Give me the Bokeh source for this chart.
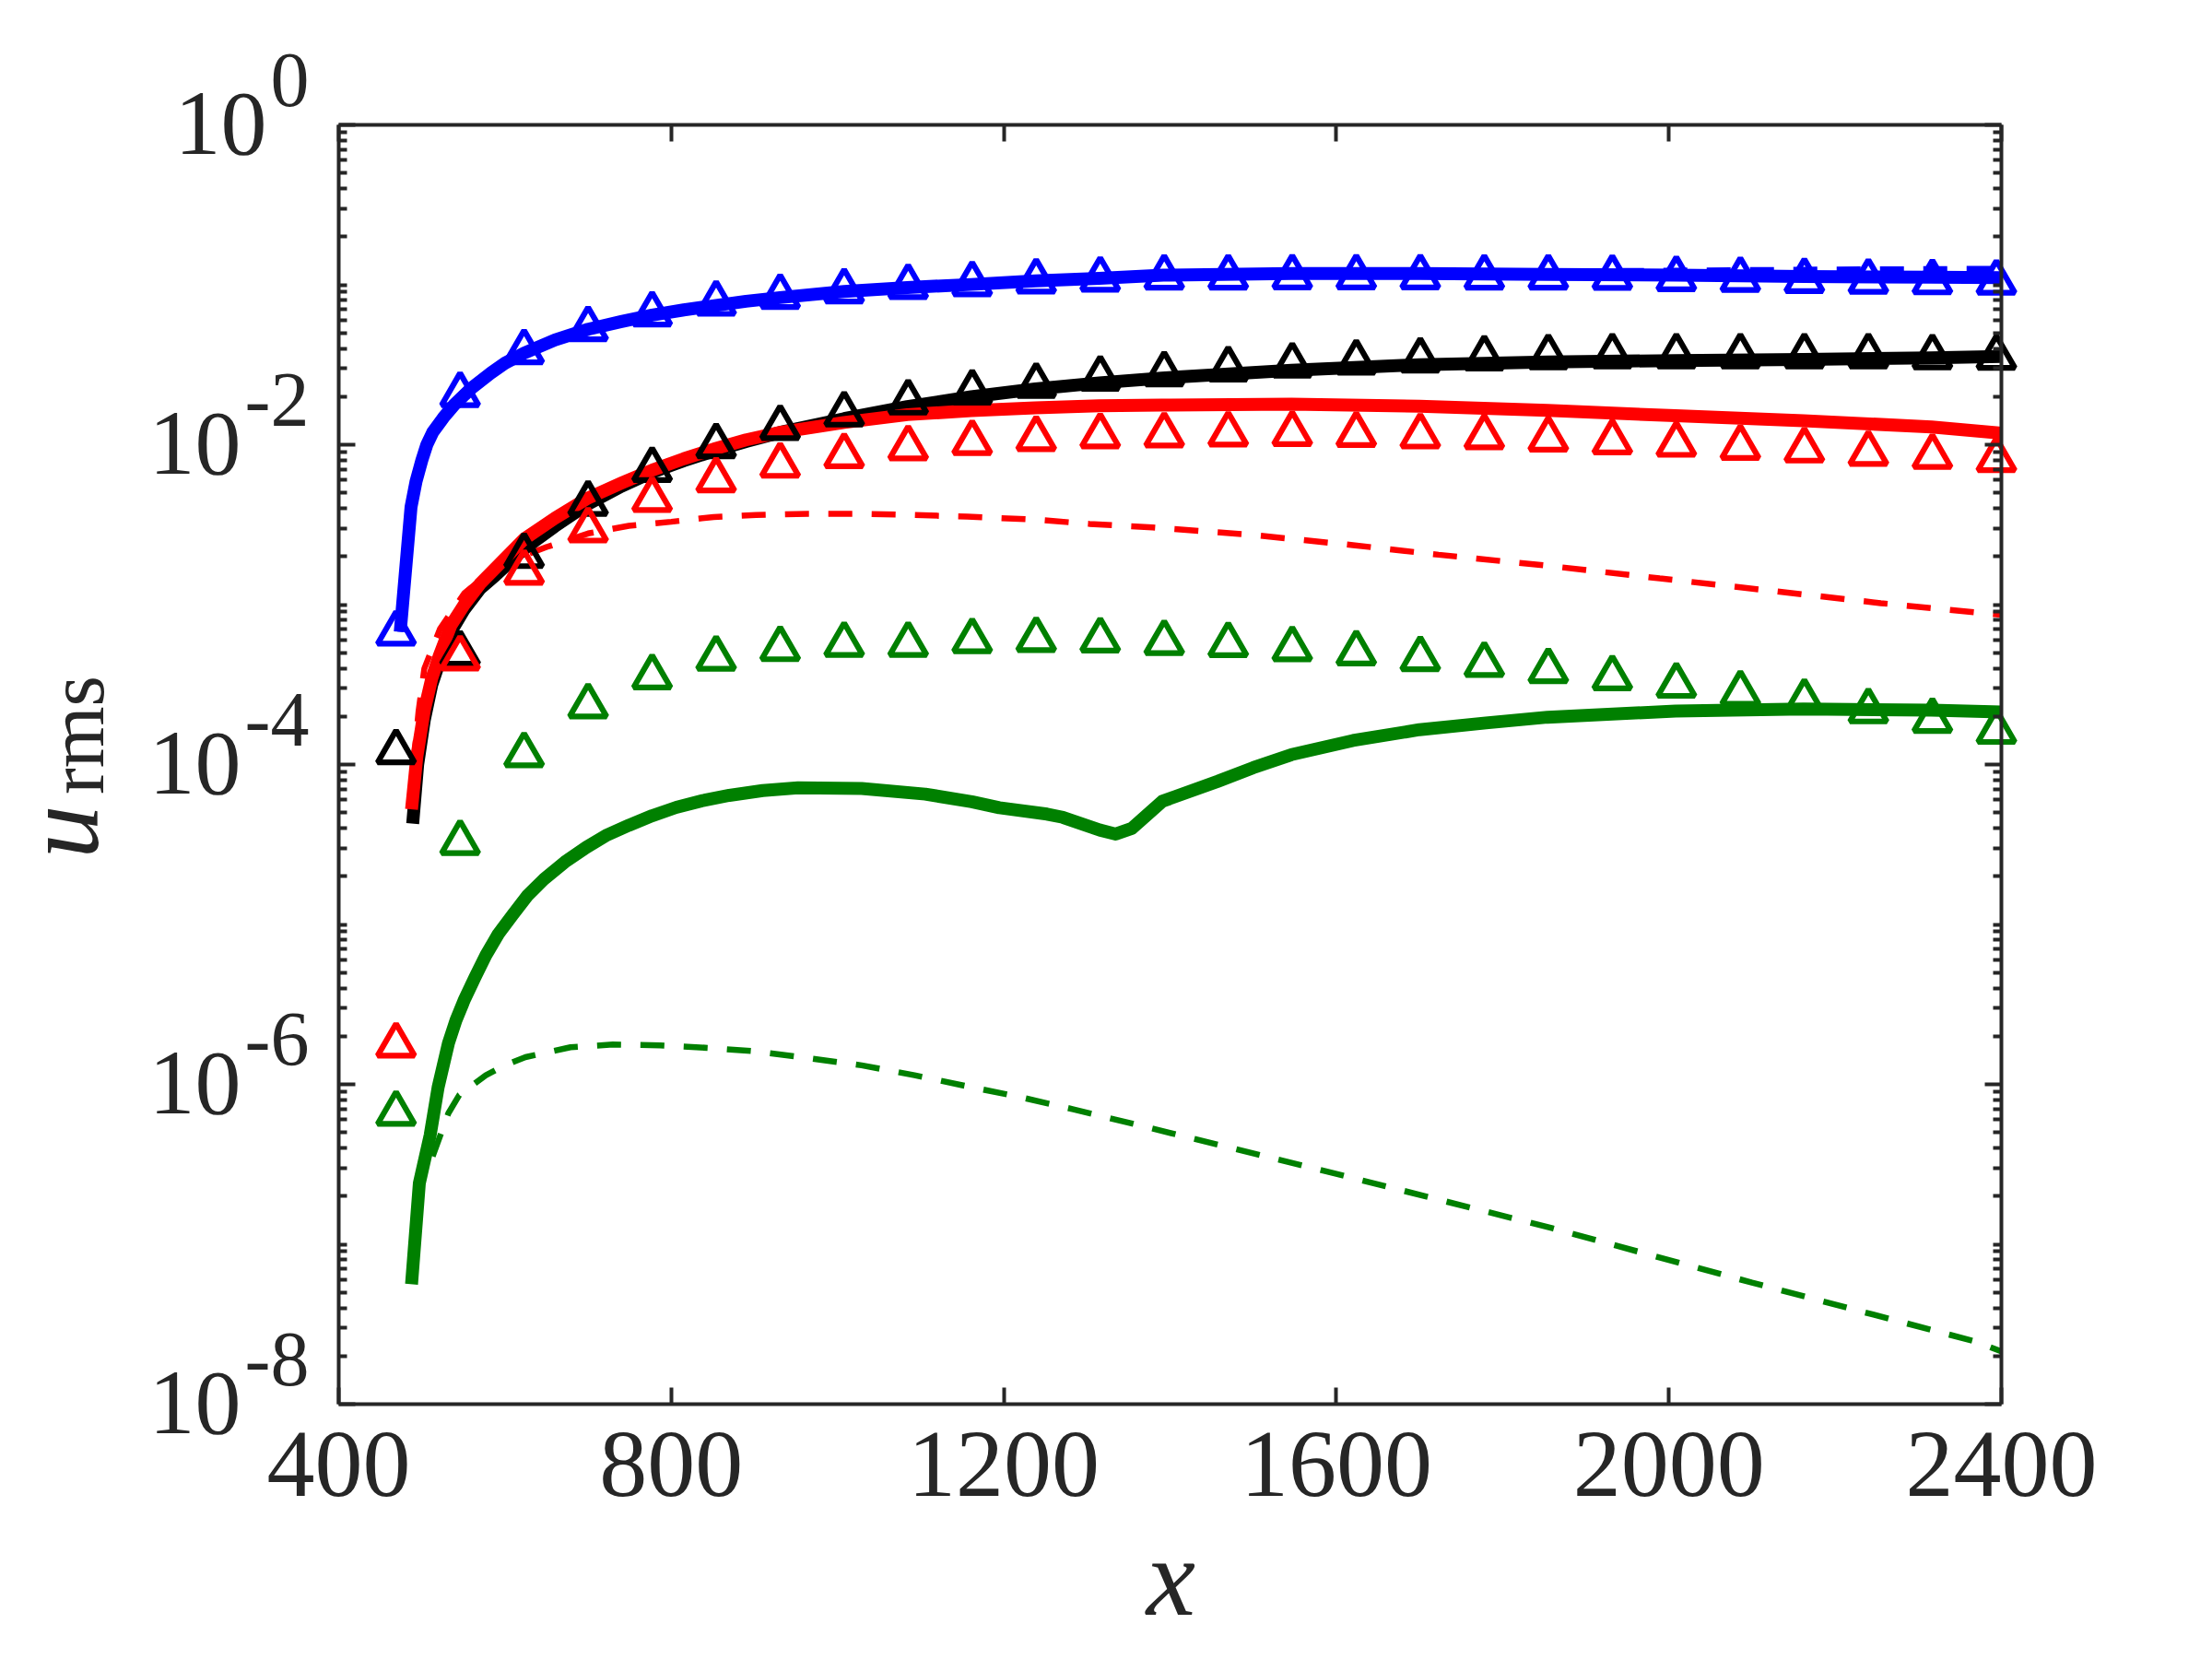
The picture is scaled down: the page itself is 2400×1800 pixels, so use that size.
import math
from bokeh.plotting import figure
from bokeh.models import (Range1d, FixedTicker, LinearAxis, LogAxis,
                          CustomJSTickFormatter)
from bokeh.core.properties import value
from bokeh.embed import file_html
from bokeh.resources import INLINE

# ---------------- data ----------------
x_markers = [469, 546, 623, 700, 777, 854, 931, 1008, 1085, 1162, 1239, 1316, 1393,
             1470, 1547, 1624, 1701, 1778, 1855, 1932, 2009, 2086, 2163, 2240, 2317, 2394]

blue_markers = [6.637e-4, 2.061e-2, 3.819e-2, 5.321e-2, 6.577e-2, 7.674e-2, 8.453e-2,
                9.162e-2, 9.750e-2, 0.1016, 0.1057, 0.1086, 0.1117, 0.1119, 0.1122,
                0.1122, 0.1122, 0.1119, 0.1119, 0.1114, 0.1094, 0.1081, 0.1064,
                0.1054, 0.1045, 0.1040]
black_markers = [1.202e-4, 4.977e-4, 2.028e-3, 4.305e-3, 6.998e-3, 9.863e-3, 1.282e-2,
                 1.556e-2, 1.849e-2, 2.133e-2, 2.350e-2, 2.606e-2, 2.773e-2, 2.979e-2,
                 3.148e-2, 3.281e-2, 3.381e-2, 3.483e-2, 3.548e-2, 3.589e-2, 3.589e-2,
                 3.589e-2, 3.589e-2, 3.589e-2, 3.548e-2, 3.524e-2]
red_markers = [1.762e-6, 4.645e-4, 1.596e-3, 2.931e-3, 4.550e-3, 6.026e-3, 7.447e-3,
               8.551e-3, 9.572e-3, 1.033e-2, 1.094e-2, 1.138e-2, 1.153e-2, 1.167e-2,
               1.175e-2, 1.161e-2, 1.135e-2, 1.122e-2, 1.086e-2, 1.042e-2, 1.007e-2,
               9.638e-3, 9.268e-3, 8.831e-3, 8.453e-3, 8.072e-3]
green_markers = [6.592e-7, 3.251e-5, 1.153e-4, 2.328e-4, 3.540e-4, 4.624e-4, 5.309e-4,
                 5.649e-4, 5.649e-4, 5.957e-4, 6.053e-4, 6.012e-4, 5.794e-4, 5.623e-4,
                 5.297e-4, 4.989e-4, 4.592e-4, 4.227e-4, 3.864e-4, 3.491e-4, 3.133e-4,
                 2.799e-4, 2.483e-4, 2.168e-4, 1.888e-4, 1.614e-4]

blue_x = [474, 487, 493, 500, 506, 513, 526, 539, 560, 583, 600, 623, 660, 700, 740,
          777, 815, 854, 890, 931, 1008, 1084, 1161, 1238, 1315, 1392, 1546, 1700,
          1854, 2008, 2162, 2316, 2400]
blue_solid = [6.761e-4, 4.074e-3, 5.888e-3, 7.998e-3, 1.0e-2, 1.194e-2, 1.479e-2,
              1.778e-2, 2.265e-2, 2.805e-2, 3.236e-2, 3.741e-2, 4.519e-2, 5.272e-2,
              5.888e-2, 6.457e-2, 6.966e-2, 7.430e-2, 7.889e-2, 8.318e-2, 9.078e-2,
              9.616e-2, 0.1005, 0.1059, 0.1096, 0.1148, 0.1175, 0.1175, 0.1161,
              0.1148, 0.1127, 0.1114, 0.1107]
blue_dashed = [6.761e-4, 4.074e-3, 5.888e-3, 7.998e-3, 1.0e-2, 1.194e-2, 1.479e-2,
               1.778e-2, 2.265e-2, 2.805e-2, 3.236e-2, 3.741e-2, 4.519e-2, 5.272e-2,
               5.888e-2, 6.457e-2, 6.966e-2, 7.430e-2, 7.889e-2, 8.318e-2, 9.078e-2,
               9.616e-2, 0.1005, 0.1059, 0.1096, 0.1148, 0.1180, 0.1197, 0.1213,
               0.1225, 0.1242, 0.1253, 0.1259]

black_x = [489, 495, 503, 512, 521, 535, 551, 570, 588, 623, 660, 700, 740, 777, 815,
           854, 890, 931, 1008, 1084, 1161, 1238, 1315, 1390, 1546, 1700, 1854, 2008,
           2162, 2316, 2400]
black_solid = [4.266e-5, 1.0e-4, 1.905e-4, 3.162e-4, 4.365e-4, 6.761e-4, 9.333e-4,
               1.259e-3, 1.514e-3, 2.239e-3, 3.090e-3, 4.266e-3, 5.495e-3, 6.730e-3,
               7.943e-3, 9.226e-3, 1.047e-2, 1.194e-2, 1.455e-2, 1.730e-2, 1.995e-2,
               2.234e-2, 2.438e-2, 2.612e-2, 2.924e-2, 3.162e-2, 3.296e-2, 3.357e-2,
               3.412e-2, 3.499e-2, 3.565e-2]

red_x = [487.6, 494, 503, 512, 521, 535, 551, 570, 588, 623, 660, 700, 740, 777, 815,
         854, 890, 931, 1008, 1084, 1161, 1238, 1315, 1390, 1546, 1700, 1854, 2008,
         2162, 2316, 2400]
red_solid = [5.248e-5, 1.122e-4, 2.188e-4, 3.467e-4, 4.786e-4, 7.413e-4, 1.0e-3,
             1.349e-3, 1.679e-3, 2.570e-3, 3.467e-3, 4.645e-3, 5.754e-3, 6.934e-3,
             8.166e-3, 9.484e-3, 1.072e-2, 1.194e-2, 1.377e-2, 1.542e-2, 1.633e-2,
             1.698e-2, 1.750e-2, 1.770e-2, 1.795e-2, 1.742e-2, 1.641e-2, 1.517e-2,
             1.413e-2, 1.291e-2, 1.180e-2]

red_dx = [490, 496, 503, 522, 551, 590, 650, 700, 749, 800, 851, 902, 965, 1029, 1093,
          1156, 1239, 1303, 1379, 1497, 1620, 1723, 1856, 1989, 2122, 2255, 2400]
red_dashed = [1.0e-4, 2.138e-4, 3.981e-4, 7.079e-4, 1.175e-3, 1.738e-3, 2.291e-3,
              2.786e-3, 3.112e-3, 3.296e-3, 3.532e-3, 3.631e-3, 3.698e-3, 3.698e-3,
              3.631e-3, 3.548e-3, 3.396e-3, 3.199e-3, 3.041e-3, 2.735e-3, 2.355e-3,
              2.051e-3, 1.746e-3, 1.459e-3, 1.222e-3, 1.021e-3, 8.630e-4]

green_x = [487.6, 497, 510, 519.6, 532, 541, 551.4, 564, 577, 592, 608.8, 627, 647,
           672, 697.8, 723, 749, 777, 806, 838, 869.8, 910, 952.5, 1029, 1105.6,
           1161.5, 1194.6, 1252, 1271, 1315.6, 1334.7, 1353.8, 1390.6, 1457, 1500,
           1546, 1620, 1700, 1780, 1854, 2008, 2162, 2316, 2400]
green_solid = [5.623e-8, 2.410e-7, 4.808e-7, 9.594e-7, 1.807e-6, 2.512e-6, 3.404e-6,
               4.677e-6, 6.412e-6, 8.710e-6, 1.140e-5, 1.514e-5, 1.919e-5, 2.455e-5,
               3.034e-5, 3.631e-5, 4.169e-5, 4.786e-5, 5.395e-5, 5.957e-5, 6.412e-5,
               6.871e-5, 7.161e-5, 7.079e-5, 6.531e-5, 5.848e-5, 5.370e-5, 4.898e-5,
               4.677e-5, 3.890e-5, 3.673e-5, 3.981e-5, 5.888e-5, 7.834e-5, 9.550e-5,
               1.153e-4, 1.413e-4, 1.652e-4, 1.820e-4, 1.977e-4, 2.158e-4, 2.228e-4,
               2.188e-4, 2.133e-4]

green_dx = [513, 532, 545, 577, 600, 624.6, 678.8, 729.7, 787, 850.7, 901.6, 965, 1029,
            1092.6, 1156.4, 1220, 1283.7, 1376, 1600, 1860, 2100, 2370, 2400]
green_dashed = [3.548e-7, 6.607e-7, 8.570e-7, 1.140e-6, 1.318e-6, 1.479e-6, 1.706e-6,
                1.774e-6, 1.754e-6, 1.683e-6, 1.607e-6, 1.459e-6, 1.315e-6, 1.140e-6,
                9.705e-7, 8.318e-7, 6.982e-7, 5.333e-7, 2.754e-7, 1.259e-7, 5.754e-8,
                2.455e-8, 2.138e-8]

x_tick_values = [400, 800, 1200, 1600, 2000, 2400]
y_tick_values = [1e-8, 1e-6, 1e-4, 1e-2, 1e0]
y_tick_exponents = ["-8", "-6", "-4", "-2", "0"]
x_title, y_title, y_title_sub = "x", "u", "rms"

BLUE, BLACK, RED, GREEN = "#0000ff", "#000000", "#ff0000", "#008000"
AX = "#262626"
FONT = "Liberation Serif"

# ---------------- canvas geometry (pixels) ----------------
W, H = 2392, 1792
BOX_L, BOX_R, BOX_T, BOX_B = 367, 2171, 135, 1523     # axes box in canvas pixels
XMIN, XMAX = 400, 2400
DMIN, DMAX = -8, 0                                      # log10 decades of the box
px_x = (BOX_R - BOX_L) / (XMAX - XMIN)
px_dec = (BOX_B - BOX_T) / (DMAX - DMIN)


def x_at(px):        # canvas px (from left) -> data x
    return XMIN + (px - BOX_L) / px_x


def y_at(py):        # canvas px (from top) -> data y (log axis)
    return 10.0 ** (DMAX - (py - BOX_T) / px_dec)


p = figure(frame_width=W, frame_height=H,
           x_range=Range1d(x_at(0), x_at(W)), y_range=Range1d(y_at(H), y_at(0)),
           y_axis_type="log", x_axis_location=None, y_axis_location=None,
           output_backend="svg", toolbar_location=None,
           min_border_left=0, min_border_right=0, min_border_top=0,
           min_border_bottom=0, background_fill_color="white",
           border_fill_color="white")
p.outline_line_color = None
p.grid.visible = False

y_minor = [m * 10.0 ** k for k in range(-8, 0) for m in range(1, 10)
           if not (m == 1 and k % 2 == 0)]
xticker = FixedTicker(ticks=x_tick_values, minor_ticks=[])
yticker = FixedTicker(ticks=y_tick_values, minor_ticks=y_minor)


def blank():
    return CustomJSTickFormatter(code="return ''")


def style_axis(ax):
    ax.axis_line_color = AX
    ax.axis_line_width = 4
    ax.major_tick_line_color = AX
    ax.major_tick_line_width = 4
    ax.minor_tick_line_color = AX
    ax.minor_tick_line_width = 4
    ax.major_tick_in = 18
    ax.major_tick_out = 0
    ax.minor_tick_in = 9
    ax.minor_tick_out = 0


bottom = LinearAxis(ticker=xticker, fixed_location=10.0 ** DMIN, bounds=(XMIN, XMAX))
style_axis(bottom)
bottom.major_label_text_font = FONT
bottom.major_label_text_font_size = "104px"
bottom.major_label_text_color = AX
bottom.major_label_standoff = 31
p.add_layout(bottom, "below")

top = LinearAxis(ticker=xticker, formatter=blank(), fixed_location=10.0 ** DMAX,
                 bounds=(XMIN, XMAX))
style_axis(top)
p.add_layout(top, "above")

left = LogAxis(ticker=yticker, formatter=blank(), fixed_location=XMIN,
               bounds=(10.0 ** DMIN, 10.0 ** DMAX))
style_axis(left)
p.add_layout(left, "left")

right = LogAxis(ticker=yticker, formatter=blank(), fixed_location=XMAX,
                bounds=(10.0 ** DMIN, 10.0 ** DMAX))
style_axis(right)
p.add_layout(right, "right")

# ---------------- lines ----------------
SW = 14
DW = 6.5
p.line(blue_x, blue_dashed, line_color=BLUE, line_width=DW, line_dash="26 21")
p.line(red_dx, red_dashed, line_color=RED, line_width=DW, line_dash="26 21")
p.line(green_dx, green_dashed, line_color=GREEN, line_width=DW, line_dash="26 21")
p.line(blue_x, blue_solid, line_color=BLUE, line_width=SW, line_join="round")
p.line(black_x, black_solid, line_color=BLACK, line_width=SW, line_join="round")
p.line(red_x, red_solid, line_color=RED, line_width=SW, line_join="round")
p.line(green_x, green_solid, line_color=GREEN, line_width=SW, line_join="round")

# ---------------- markers ----------------
for ys, c in [(blue_markers, BLUE), (black_markers, BLACK),
              (red_markers, RED), (green_markers, GREEN)]:
    p.scatter(x_markers, ys, marker="triangle", size=40, fill_color=None,
              line_color=c, line_width=6.2)

# ---------------- y tick labels: "10" with a raised exponent ----------------
EXP_SIZE, BASE_SIZE = 84, 100
EXP_GAP = 32
exp_widths = [0.5 * EXP_SIZE * len(e.replace("-", "")) + (0.333 * EXP_SIZE if "-" in e else 0)
              for e in y_tick_exponents]
n = len(y_tick_values)
p.text(x=[XMIN] * n, y=y_tick_values, text=y_tick_exponents,
       x_offset=-EXP_GAP, y_offset=-49, text_align="right", text_baseline="alphabetic",
       text_font=value(FONT), text_font_size=value(f"{EXP_SIZE}px"), text_color=AX)
p.text(x=[XMIN] * n, y=y_tick_values, text=["10"] * n,
       x_offset=[-EXP_GAP - w - 4 for w in exp_widths], y_offset=-1,
       text_align="right", text_baseline="alphabetic",
       text_font=value(FONT), text_font_size=value(f"{BASE_SIZE}px"), text_color=AX)

# ---------------- axis titles ----------------
p.text(x=[x_at(66)], y=[y_at(902)], text=[y_title], angle=math.pi / 2,
       text_align="center", text_baseline="alphabetic", text_font=value(FONT),
       text_font_style="italic", text_font_size=value("116px"), text_color=AX)
p.text(x=[x_at(82)], y=[y_at(797)], text=[y_title_sub], angle=math.pi / 2,
       text_align="center", text_baseline="alphabetic", text_font=value(FONT),
       text_font_size=value("86px"), text_color=AX)
p.text(x=[x_at(1270)], y=[y_at(1711)], text=[x_title],
       text_align="center", text_baseline="alphabetic", text_font=value(FONT),
       text_font_style="italic", text_font_size=value("120px"), text_color=AX)

open("out.html", "w").write(file_html(p, INLINE))
